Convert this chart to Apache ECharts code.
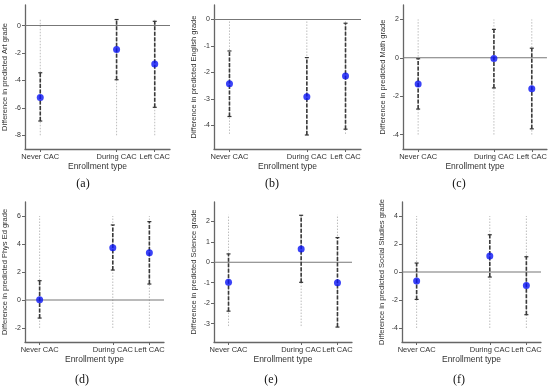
<!DOCTYPE html>
<html>
<head>
<meta charset="utf-8">
<style>
html,body{margin:0;padding:0;background:#fff;}
#chart{width:550px;height:389px;}
</style>
<script src="https://cdn.jsdelivr.net/npm/echarts@6/dist/echarts.min.js"></script>
</head>
<body>
<div id="chart"></div>
<script>
// Data
const categories = ['Never CAC', 'During CAC', 'Left CAC'];
const catPositions = [1, 3, 4];
const subjects = ['Art', 'English', 'Math', 'Phys Ed', 'Science', 'Social Studies'];
const panelLabels = ['(a)', '(b)', '(c)', '(d)', '(e)', '(f)'];

const artEst = [-5.24, -1.75, -2.81];
const artLow = [-6.96, -3.95, -5.96];
const artHigh = [-3.44, 0.44, 0.31];
const artTicks = [-8, -6, -4, -2, 0];
const artRange = [-8, 0.45];

const englishEst = [-2.43, -2.92, -2.14];
const englishLow = [-3.67, -4.37, -4.15];
const englishHigh = [-1.19, -1.44, -0.14];
const englishTicks = [-4, -3, -2, -1, 0];
const englishRange = [-4.33, 0];

const mathEst = [-1.36, -0.04, -1.61];
const mathLow = [-2.67, -1.57, -3.7];
const mathHigh = [-0.05, 1.48, 0.5];
const mathTicks = [-4, -2, 0, 2];
const mathRange = [-4, 2];

const physEst = [0.02, 3.74, 3.38];
const physLow = [-1.29, 2.14, 1.14];
const physHigh = [1.38, 5.36, 5.6];
const physTicks = [-2, 0, 2, 4, 6];
const physRange = [-2, 6];

const scienceEst = [-0.98, 0.65, -1.0];
const scienceLow = [-2.39, -0.98, -3.17];
const scienceHigh = [0.41, 2.3, 1.21];
const scienceTicks = [-3, -2, -1, 0, 1, 2];
const scienceRange = [-3.12, 2.32];

const socialEst = [-0.64, 1.14, -0.96];
const socialLow = [-1.96, -0.36, -3.05];
const socialHigh = [0.64, 2.66, 1.09];
const socialTicks = [-4, -2, 0, 2, 4];
const socialRange = [-4, 4];

const panels = [
  {est: artEst, low: artLow, high: artHigh, ticks: artTicks, range: artRange, ymin: -9, ymax: 1.5},
  {est: englishEst, low: englishLow, high: englishHigh, ticks: englishTicks, range: englishRange, ymin: -4.9, ymax: 0.55},
  {est: mathEst, low: mathLow, high: mathHigh, ticks: mathTicks, range: mathRange, ymin: -4.75, ymax: 2.75},
  {est: physEst, low: physLow, high: physHigh, ticks: physTicks, range: physRange, ymin: -3, ymax: 7},
  {est: scienceEst, low: scienceLow, high: scienceHigh, ticks: scienceTicks, range: scienceRange, ymin: -3.9, ymax: 2.95},
  {est: socialEst, low: socialLow, high: socialHigh, ticks: socialTicks, range: socialRange, ymin: -5, ymax: 5}
];

// Layout
const grids = [
  {left: 25, top: 5, width: 145, height: 144},
  {left: 214, top: 5, width: 147, height: 144},
  {left: 403, top: 5, width: 144, height: 144},
  {left: 25, top: 202, width: 139, height: 140},
  {left: 214, top: 202, width: 138, height: 140},
  {left: 402, top: 202, width: 139, height: 140}
];
const labelPos = [[83, 184], [272, 184], [459, 184], [82, 380], [271, 380], [459, 380]];

const FONT = 'Liberation Sans, Arial, sans-serif';
const axisColor = '#666';
const textColor = '#333';

const xAxes = [], yAxes = [], series = [];
panels.forEach((p, i) => {
  xAxes.push({
    gridIndex: i, type: 'value', min: 0.6, max: 4.4,
    splitLine: {show: false},
    axisLine: {show: true, onZero: false, lineStyle: {color: axisColor, width: 1.3}},
    axisTick: {show: true, customValues: catPositions, length: 3, lineStyle: {color: axisColor}},
    axisLabel: {customValues: catPositions, color: textColor, fontSize: 7.5, fontFamily: FONT, margin: 4,
      formatter: v => categories[catPositions.indexOf(Math.round(v))] || ''},
    name: 'Enrollment type', nameLocation: 'middle', nameGap: 13,
    nameTextStyle: {color: textColor, fontSize: 8.5, fontFamily: FONT}
  });
  yAxes.push({
    gridIndex: i, type: 'value', min: p.ymin, max: p.ymax,
    splitLine: {show: false},
    axisLine: {show: true, onZero: false, lineStyle: {color: axisColor, width: 1.3}},
    axisTick: {show: true, customValues: p.ticks, length: 3, lineStyle: {color: axisColor}},
    axisLabel: {customValues: p.ticks, color: textColor, fontSize: 7, fontFamily: FONT, margin: 4},
    name: 'Difference in predicted ' + subjects[i] + ' grade', nameLocation: 'middle', nameGap: 16,
    nameTextStyle: {color: textColor, fontSize: 7.5, fontFamily: FONT}
  });
  // gray dotted range lines
  series.push({
    type: 'custom', xAxisIndex: i, yAxisIndex: i, silent: true, z: 1,
    data: catPositions.map(x => [x, p.range[0], p.range[1]]),
    renderItem: (params, api) => {
      const a = api.coord([api.value(0), api.value(1)]);
      const b = api.coord([api.value(0), api.value(2)]);
      return {type: 'line', shape: {x1: a[0], y1: a[1], x2: b[0], y2: b[1]},
        style: {stroke: '#bdbdbd', lineWidth: 1, lineDash: [1.5, 1.5]}};
    }
  });
  // zero line
  series.push({
    type: 'line', xAxisIndex: i, yAxisIndex: i, silent: true, z: 2,
    data: [[0.6, 0], [4.4, 0]], symbol: 'none',
    lineStyle: {color: '#777', width: 1.1}
  });
  // error bars
  series.push({
    type: 'custom', xAxisIndex: i, yAxisIndex: i, silent: true, z: 3,
    data: catPositions.map((x, k) => [x, p.low[k], p.high[k]]),
    renderItem: (params, api) => {
      const lo = api.coord([api.value(0), api.value(1)]);
      const hi = api.coord([api.value(0), api.value(2)]);
      return {type: 'group', children: [
        {type: 'line', shape: {x1: lo[0], y1: lo[1], x2: hi[0], y2: hi[1]},
          style: {stroke: '#3a3a3a', lineWidth: 1.6, lineDash: [4, 1.5]}},
        {type: 'line', shape: {x1: lo[0] - 2, y1: lo[1], x2: lo[0] + 2, y2: lo[1]}, style: {stroke: '#333', lineWidth: 1.2}},
        {type: 'line', shape: {x1: hi[0] - 2, y1: hi[1], x2: hi[0] + 2, y2: hi[1]}, style: {stroke: '#333', lineWidth: 1.2}}
      ]};
    }
  });
  // point estimates
  series.push({
    type: 'scatter', xAxisIndex: i, yAxisIndex: i, z: 4,
    data: catPositions.map((x, k) => [x, p.est[k]]),
    symbol: 'circle', symbolSize: 7,
    itemStyle: {color: '#0a14f5'}
  });
});

const graphics = panelLabels.map((t, i) => ({
  type: 'text', x: labelPos[i][0], y: labelPos[i][1],
  style: {text: t, fill: '#111', font: '12px "Liberation Serif", "DejaVu Serif", serif', align: 'center', verticalAlign: 'middle'}
}));

const chart = echarts.init(document.getElementById('chart'), null, {renderer: 'canvas'});
chart.setOption({
  animation: false,
  backgroundColor: '#fff',
  grid: grids,
  xAxis: xAxes,
  yAxis: yAxes,
  series: series,
  graphic: graphics
});
</script>
</body>
</html>
